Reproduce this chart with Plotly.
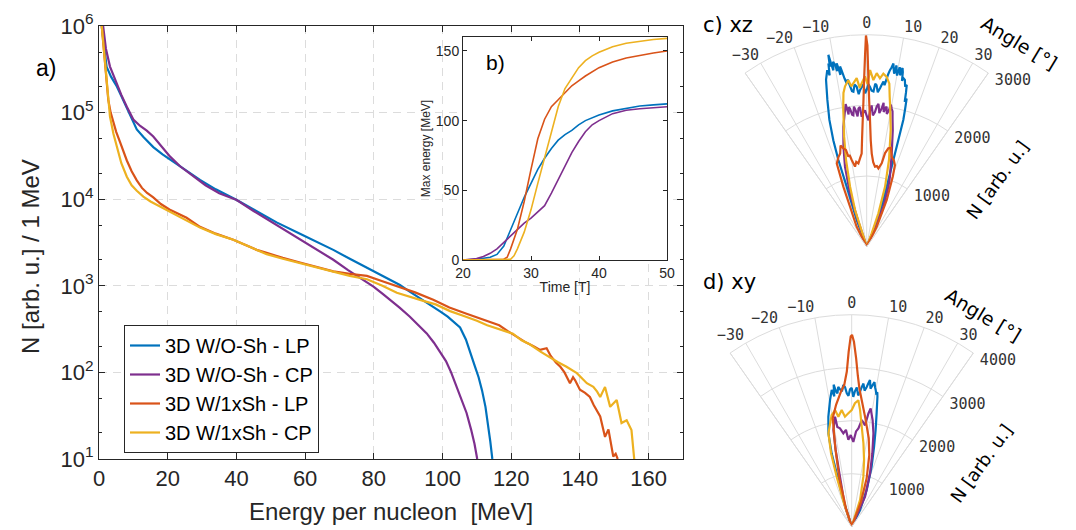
import plotly.graph_objects as go

W, H = 1076, 530
COL = {"blue": "#0072BD", "purple": "#7E2F8E", "orange": "#D95319", "yellow": "#EDB120"}
TXT = "#262626"
MAINFONT = "Liberation Sans"

# ---------------- a) energy spectra ----------------
names = ["3D W/O-Sh - LP", "3D W/O-Sh - CP", "3D W/1xSh - LP", "3D W/1xSh - CP"]
y_tickvals = [10, 100, 1000, 10000, 100000, 1000000]
y_ticktext = ["10<sup>1</sup>", "10<sup>2</sup>", "10<sup>3</sup>", "10<sup>4</sup>", "10<sup>5</sup>", "10<sup>6</sup>"]

E_blue = [0.8, 1.5, 2.2, 3.5, 5.2, 6.5, 8.1, 9.5, 11, 13, 15.8, 18.5, 21.6, 25.5, 29.4, 34, 40.1, 45, 51.7,
          58.5, 63.5, 68.2, 73, 77.9, 82.5, 87.6, 90, 92.5, 95, 97.3, 99.5, 101.5, 103.5, 105.1, 106.8, 108.2,
          109.5, 110.5, 111.5, 112.5, 113.2, 113.9, 114.5]
N_blue = [1e6, 5.5e5, 3.4e5, 2.6e5, 2.0e5, 1.55e5, 1.12e5, 8.3e4, 6.4e4, 5.2e4, 4.0e4, 3.3e4, 2.7e4, 2.15e4,
          1.67e4, 1.3e4, 9.8e3, 7.6e3, 5.4e3, 4.0e3, 3.2e3, 2.6e3, 2.05e3, 1.62e3, 1.3e3, 1.02e3, 880, 760,
          660, 580, 500, 440, 380, 330, 240, 160, 115, 88, 62, 40, 26, 16, 10]

E_purple = [1.2, 2, 3.2, 4.2, 5.2, 6.5, 8.1, 10, 12, 13.9, 15.8, 18, 20.7, 23.6, 27.5, 31, 35, 40.1, 45, 51.7,
            58.5, 63.5, 68.2, 72.5, 76.9, 79.9, 82.5, 84.7, 87.5, 90.5, 93, 95.4, 97.5, 99.3, 101, 102.5, 104,
            105.5, 107, 108.3, 109.3, 110.1]
N_purple = [1e6, 5.5e5, 3.4e5, 2.7e5, 2.2e5, 1.6e5, 1.17e5, 8.3e4, 7.0e4, 6.2e4, 5.3e4, 4.2e4, 3.1e4, 2.4e4,
            1.82e4, 1.45e4, 1.17e4, 9.8e3, 7.3e3, 5.0e3, 3.4e3, 2.6e3, 2.0e3, 1.52e3, 1.17e3, 980, 810, 690,
            560, 440, 350, 282, 220, 172, 135, 100, 70, 50, 34, 22, 15, 10]

E_orange = [0.8, 1.5, 2, 2.7, 3.4, 4.2, 5, 6.1, 7.1, 8.1, 9.5, 11, 12.5, 14, 15.8, 18, 20.5, 23, 25.5, 29.4, 34,
            39.1, 45.9, 48.8, 53.5, 58.5, 63.5, 68.2, 73, 78, 82.5, 87.6, 92, 97.3, 102, 107, 110, 113, 116.5,
            119, 121.6, 124, 126.5, 128.4, 130.3, 131.5, 133, 134.3, 135.5, 136.5, 137.1, 138, 138.6, 140, 141.5,
            142.9, 144, 145.9, 146.6, 147.3, 148.3, 149.2, 149.7, 150.4, 151]
N_orange = [1e6, 5e5, 2.6e5, 1.4e5, 1.0e5, 7.8e4, 6.0e4, 4.6e4, 3.5e4, 2.8e4, 2.1e4, 1.65e4, 1.35e4, 1.18e4,
            1.05e4, 8.8e3, 7.6e3, 6.8e3, 6.1e3, 4.8e3, 4.0e3, 3.4e3, 2.6e3, 2.4e3, 2.1e3, 1.86e3, 1.63e3,
            1.47e3, 1.37e3, 1.3e3, 1.13e3, 960, 840, 690, 560, 475, 430, 390, 350, 300, 257, 225, 200, 182,
            190, 155, 130, 116, 100, 85, 75, 88, 81, 63, 58, 52, 42, 31, 24, 18, 22, 12.7, 10.7, 11.5, 10]

E_yellow = [0.8, 1.5, 2.2, 3.2, 4.2, 5.2, 6.5, 8.1, 9.5, 11, 12.9, 15, 17.8, 21.6, 25.5, 29.4, 34, 39.1, 44, 48.8,
            53.5, 58.5, 63.5, 68.2, 73, 78, 82.5, 86.7, 90.5, 94.4, 98, 102.2, 106, 110, 113, 116.7, 118, 120.5,
            123, 125.5, 128.4, 131, 133.5, 136.1, 137.5, 139.1, 140.5, 142, 143.9, 145, 145.9, 147.3, 148.8,
            149.8, 150.7, 152.1, 153.6, 155, 155.5, 155.8]
N_yellow = [1e6, 5e5, 2.2e5, 9.0e4, 5.7e4, 4.0e4, 2.6e4, 1.82e4, 1.45e4, 1.25e4, 1.07e4, 9.4e3, 8.2e3, 6.9e3,
            5.75e3, 4.7e3, 3.95e3, 3.4e3, 2.8e3, 2.32e3, 2.05e3, 1.82e3, 1.6e3, 1.43e3, 1.3e3, 1.19e3, 1.0e3,
            830, 740, 670, 610, 510, 450, 395, 350, 315, 300, 280, 235, 210, 175, 150, 132, 116, 108, 98, 86,
            75, 68, 60, 52, 68, 40, 44, 48, 26, 28, 21.6, 12, 10]

# ---------------- b) max energy vs time ----------------
T_blue = [20, 22, 24, 25, 26, 27, 28, 29, 30, 31, 32, 33, 34, 35, 36, 37, 38, 40, 42, 44, 46, 48, 50]
M_blue = [0, 0.5, 2, 4, 10, 22, 33, 45, 55, 65, 73, 80, 86, 90, 93, 97, 100, 104, 107, 109, 110.5, 111.3, 112]
T_purple = [20, 21, 22, 23, 24, 25, 26, 27, 28, 29, 30, 31, 32, 33, 34, 35, 36, 37, 38, 39, 40, 42, 44, 46, 48, 50]
M_purple = [0, 0.3, 1, 2.5, 4.8, 8, 12.5, 17, 22, 26.5, 30, 34.5, 39, 48, 58, 67, 77, 85, 92, 97, 100, 105,
            107.5, 108.5, 109.3, 110]
T_orange = [20, 22, 24, 25, 26, 26.5, 27, 28, 29, 30, 31, 32, 33, 34, 35, 36, 37, 38, 40, 42, 44, 46, 48, 50]
M_orange = [0, 0, 0, 0, 0.5, 2, 8, 22, 42, 65, 87, 101, 110, 115, 120, 125, 128.5, 132, 138, 142, 145, 147,
            148.5, 150]
T_yellow = [20, 22, 24, 26, 27, 27.5, 28, 29, 30, 31, 32, 33, 34, 35, 36, 37, 38, 39, 40, 42, 44, 46, 48, 50]
M_yellow = [0, 0, 0, 0, 0.5, 3, 8, 20, 36, 55, 73, 92, 110, 123, 131, 138, 143, 146.5, 149, 153, 155.5, 157,
            158.2, 159]

# ---------------- c) xz angular distribution ----------------
thc_blue = [-21.5, -20.6, -18.4, -18.1, -17.4, -16.4, -15.0, -13.7, -12.6, -12.2, -11.8, -11.55, -11.3, -11.0,
            -10.7, -10.3, -9.8, -9.55, -9.3, -9.0, -8.7, -8.4, -8.1, -7.5, -7.0, -6.5, -5.9, -5.4, -4.9, -4.3,
            -3.6, -3.0, -2.4, -1.8, -1.2, -0.6, 0, 0.6, 1.2, 1.8, 2.5, 3.0, 3.5, 4.1, 4.8, 5.3, 5.8, 6.3, 6.8,
            7.1, 7.5, 7.9, 8.3, 8.65, 9.0, 9.35, 9.7, 10.05, 10.4, 10.7, 11.0, 11.35, 11.7, 12.0, 12.3, 12.9,
            13.5, 13.9, 14.3, 14.7, 15.1, 15.6, 16.1, 16.5, 17.1, 18.0, 19.7, 23.2, 25]
rc_blue = [0, 400, 900, 1290, 1580, 1870, 2150, 2430, 2560, 2480, 2650, 2600, 2770, 2640, 2540, 2660, 2600,
           2520, 2630, 2560, 2460, 2580, 2520, 2400, 2330, 2380, 2280, 2210, 2200, 2300, 2270, 2160, 2220, 2260,
           2300, 2170, 2220, 2300, 2260, 2210, 2200, 2310, 2290, 2190, 2250, 2300, 2350, 2300, 2400, 2460, 2520,
           2560, 2620, 2540, 2480, 2600, 2510, 2460, 2580, 2560, 2470, 2580, 2520, 2400, 2440, 2420, 2330, 2360,
           2250, 2120, 2170, 2020, 1870, 1580, 1280, 990, 700, 360, 0]
thc_purple = [-21, -18.4, -17.4, -15.2, -13.1, -11.0, -9.0, -8.4, -7.8, -7.3, -6.9, -6.3, -5.8, -5.2, -4.6, -4.0,
              -3.4, -2.8, -2.2, -1.8, -1.4, -0.7, 0, 0.8, 1.4, 2.0, 2.7, 3.5, 4.1, 4.7, 5.4, 6.2, 6.7, 7.2, 7.7,
              8.1, 8.6, 9.2, 9.7, 10.2, 10.8, 11.4, 12.6, 15.0, 18.4, 19.9, 22.6, 24]
rc_purple = [0, 400, 790, 1170, 1450, 1730, 1960, 2040, 1890, 1990, 1970, 1880, 1870, 1990, 1930, 1850, 1960,
             1980, 1840, 1880, 1900, 1930, 1850, 1790, 1920, 2000, 1860, 1910, 1990, 2030, 1900, 1970, 2050,
             1920, 1980, 2000, 1900, 1950, 2040, 1990, 1950, 1850, 1690, 1370, 1040, 900, 610, 0]
thc_yellow = [-20, -17.7, -15.5, -13.4, -11.6, -9.5, -8.6, -7.7, -6.3, -5.5, -4.7, -3.4, -2.5, -1.8, -0.6, 0.3,
              1.1, 2.3, 3.3, 4.5, 5.5, 6.7, 7.9, 8.7, 9.5, 11.6, 14.4, 17.0, 19.3, 20.6, 21.5]
rc_yellow = [0, 540, 880, 1260, 1590, 2010, 2200, 2290, 2370, 2280, 2320, 2390, 2250, 2310, 2410, 2300, 2500,
             2360, 2460, 2390, 2460, 2420, 2330, 2150, 2010, 1690, 1270, 890, 500, 200, 0]
thc_orange = [-28, -26.6, -22.6, -21.3, -19.8, -17.5, -15.9, -14.5, -13.3, -12.1, -11.5, -10.6, -9.8, -8.3, -7.0,
              -5.7, -4.2, -3.1, -2.4, -1.8, -1.3, -0.9, -0.5, -0.2, 0.2, 0.6, 1.0, 1.5, 2.2, 3.1, 4.4, 5.9, 7.2,
              8.5, 10.2, 11.1, 12.4, 13.8, 15.5, 17.5, 19.1, 20.4, 23.2, 26.6, 28]
rc_orange = [0, 316, 610, 910, 1250, 1330, 1370, 1480, 1430, 1400, 1300, 1320, 1245, 1145, 1210, 1185, 1260,
             1320, 1550, 1790, 2050, 2360, 2700, 2990, 2850, 2360, 2050, 1790, 1500, 1320, 1200, 1140, 1150, 1120,
             1200, 1350, 1425, 1440, 1320, 1280, 1220, 1060, 720, 316, 0]

# ---------------- d) xy angular distribution ----------------
thd_blue = [-20, -17.4, -15.7, -15.3, -14.0, -12.0, -9.7, -8.3, -7.95, -7.6, -7.25, -6.9, -6.5, -6.1, -5.5, -4.9,
            -4.1, -3.4, -2.75, -2.1, -1.4, -0.7, 0, 0.7, 1.4, 2.1, 2.8, 3.5, 4.1, 4.7, 5.4, 6.1, 6.6, 7.1, 7.75,
            8.4, 8.95, 9.5, 9.95, 10.4, 10.8, 11.2, 12.4, 13.9, 15.6, 18.4, 22.2, 26.6, 28]
rd_blue = [0, 530, 1045, 1430, 1815, 2120, 2425, 2610, 2540, 2480, 2700, 2630, 2560, 2530, 2650, 2600, 2560,
           2680, 2640, 2520, 2470, 2590, 2620, 2450, 2560, 2630, 2480, 2550, 2640, 2710, 2580, 2645, 2720, 2790,
           2630, 2700, 2760, 2670, 2620, 2560, 2580, 2500, 2190, 1880, 1570, 1190, 750, 350, 0]
thd_purple = [-20, -18.4, -13.0, -11.8, -10.7, -8.6, -8.2, -6.8, -5.1, -3.4, -2.2, -0.6, 1.1, 2.6, 3.9, 5.4, 7.5,
              8.4, 9.1, 11.1, 13.1, 15.7, 19.0, 24.0, 26]
rd_purple = [0, 400, 1030, 1480, 1860, 2100, 1900, 1870, 1770, 1830, 1640, 1730, 1600, 1800, 1860, 2020, 1930,
             2160, 2260, 2050, 1810, 1440, 1060, 620, 0]
thd_yellow = [-20, -18.2, -16.7, -15.7, -14.0, -10.2, -8.1, -6.9, -4.9, -3.5, -1.7, 0, 1.5, 3.0, 4.1, 5.7, 8.0,
              10.5, 13.1, 17.4, 20]
rd_yellow = [0, 460, 985, 1440, 1815, 2140, 2220, 2090, 2210, 2080, 2140, 2200, 2330, 2390, 2210, 1900, 1590,
             1280, 970, 530, 0]
thd_orange = [-22, -17.2, -14.3, -11.8, -9.9, -7.3, -4.5, -3.0, -1.8, -1.0, -0.3, 0.1, 0.7, 1.5, 2.3, 3.2, 4.7,
              7.2, 10.9, 13.8, 17.2, 20.5, 23]
rd_orange = [0, 360, 940, 1510, 2080, 2320, 2560, 2680, 2930, 3300, 3590, 3620, 3490, 3180, 2860, 2610, 2370,
             2060, 1700, 1390, 955, 500, 0]

ang_ticks = [-35, -30, -20, -10, 0, 10, 20, 30, 35]
ang_text = ["", "\u221230", "\u221220", "\u221210", "0", "10", "20", "30", ""]


def px(x):
    return x / W


def py(y):
    return 1 - y / H


fig = go.Figure()

keys = ["blue", "purple", "orange", "yellow"]
spectra = [(E_blue, N_blue), (E_purple, N_purple), (E_orange, N_orange), (E_yellow, N_yellow)]
for k, nm, (e, n) in zip(keys, names, spectra):
    fig.add_trace(go.Scatter(x=e, y=n, mode="lines", name=nm, line=dict(color=COL[k], width=2.2),
                             xaxis="x", yaxis="y"))

maxe = [(T_blue, M_blue), (T_purple, M_purple), (T_orange, M_orange), (T_yellow, M_yellow)]
for k, (t, m) in zip(keys, maxe):
    fig.add_trace(go.Scatter(x=t, y=m, mode="lines", showlegend=False, line=dict(color=COL[k], width=1.6),
                             xaxis="x2", yaxis="y2"))

polc = {"blue": (thc_blue, rc_blue), "purple": (thc_purple, rc_purple),
        "yellow": (thc_yellow, rc_yellow), "orange": (thc_orange, rc_orange)}
pold = {"blue": (thd_blue, rd_blue), "purple": (thd_purple, rd_purple),
        "yellow": (thd_yellow, rd_yellow), "orange": (thd_orange, rd_orange)}
for k in ["blue", "purple", "yellow", "orange"]:
    th, r = polc[k]
    fig.add_trace(go.Scatterpolar(theta=th, r=r, mode="lines", showlegend=False,
                                  line=dict(color=COL[k], width=2.2), subplot="polar"))
for k in ["blue", "purple", "yellow", "orange"]:
    th, r = pold[k]
    fig.add_trace(go.Scatterpolar(theta=th, r=r, mode="lines", showlegend=False,
                                  line=dict(color=COL[k], width=2.2), subplot="polar2"))

axis_common = dict(showline=True, linecolor=TXT, linewidth=1, mirror="ticks", ticks="inside",
                   tickcolor=TXT, zeroline=False, automargin=False)

fig.update_layout(
    width=W, height=H, margin=dict(l=0, r=0, t=0, b=0, autoexpand=False),
    paper_bgcolor="white", plot_bgcolor="white",
    font=dict(family=MAINFONT, color=TXT),
    xaxis=dict(domain=[px(99), px(683)], range=[0, 170], dtick=20, ticklen=6,
               showgrid=True, gridcolor="#dcdcdc", griddash="8px,6px", gridwidth=1,
               tickfont=dict(size=22, family=MAINFONT, color=TXT),
               title=dict(text="Energy per nucleon\u00a0 [MeV]", font=dict(size=24, color=TXT), standoff=12),
               anchor="y", **axis_common),
    yaxis=dict(domain=[py(459), py(26)], type="log", range=[1, 6], tickvals=y_tickvals, ticktext=y_ticktext,
               ticklen=6, showgrid=True, gridcolor="#dcdcdc", griddash="8px,6px", gridwidth=1,
               minor=dict(ticks="inside", ticklen=3, tickcolor=TXT, showgrid=False),
               tickfont=dict(size=22, family=MAINFONT, color=TXT),
               anchor="x", **axis_common),
    xaxis2=dict(domain=[px(463), px(667)], range=[20, 50], dtick=10, ticklen=4, showgrid=False,
                tickfont=dict(size=14, color=TXT),
                title=dict(text="Time [T]", font=dict(size=14, color=TXT), standoff=2),
                anchor="y2", **axis_common),
    yaxis2=dict(domain=[py(260), py(37)], range=[0, 160], tickvals=[0, 50, 100, 150], ticklen=4,
                showgrid=False, tickfont=dict(size=14, color=TXT),
                title=dict(text="Max energy [MeV]", font=dict(size=12, color=TXT), standoff=2),
                anchor="x2", **axis_common),
    legend=dict(x=px(124), y=py(325), xanchor="left", yanchor="top", bgcolor="white",
                bordercolor=TXT, borderwidth=1, font=dict(size=20, family=MAINFONT, color="black"),
                tracegroupgap=0, itemwidth=30),
)

polar_common = dict(
    sector=[55, 125], bgcolor="white",
    angularaxis=dict(rotation=90, direction="clockwise", tickvals=ang_ticks, ticktext=ang_text,
                     showline=True, linecolor="#dcdcdc", linewidth=1, gridcolor="#dcdcdc", ticks="",
                     tickfont=dict(size=15, family="DejaVu Sans Mono", color="#333333")),
)
fig.update_layout(
    polar=dict(domain=dict(x=[px(745.1), px(988.3)], y=[py(246.7), py(34.7)]),
               radialaxis=dict(range=[0, 3000], tickvals=[1000, 2000, 3000], showline=False, ticks="",
                               angle=55, side="clockwise", tickangle=55, gridcolor="#dcdcdc",
                               tickfont=dict(size=15, family="DejaVu Sans Mono", color="#333333")),
               **polar_common),
    polar2=dict(domain=dict(x=[px(730.1), px(973.3)], y=[py(526.7), py(314.7)]),
                radialaxis=dict(range=[0, 4000], tickvals=[1000, 2000, 3000, 4000], showline=False, ticks="",
                                angle=55, side="clockwise", tickangle=55, gridcolor="#dcdcdc",
                                tickfont=dict(size=15, family="DejaVu Sans Mono", color="#333333")),
                **polar_common),
)

ann = []


def add_text(text, x, y, size, family=MAINFONT, angle=0, color="black"):
    ann.append(dict(text=text, x=px(x), y=py(y), xref="paper", yref="paper", showarrow=False,
                    xanchor="center", yanchor="middle", textangle=angle,
                    font=dict(size=size, family=family, color=color)))


add_text("N [arb. u.] / 1 MeV", 30, 257, 24, angle=-90, color=TXT)
add_text("a)", 46, 68, 23)
add_text("b)", 495, 63, 21)
add_text("c) xz", 728, 25, 21, family="DejaVu Sans")
add_text("d) xy", 729, 282, 21, family="DejaVu Sans")
add_text("Angle [°]", 1019, 43, 19, family="DejaVu Sans", angle=31)
add_text("Angle [°]", 983, 315, 19, family="DejaVu Sans", angle=31)
add_text("N [arb. u.]", 998, 180, 18, family="DejaVu Sans", angle=-54)
add_text("N [arb. u.]", 981, 463, 18, family="DejaVu Sans", angle=-54)
fig.update_layout(annotations=ann)

fig.write_html("out.html")
